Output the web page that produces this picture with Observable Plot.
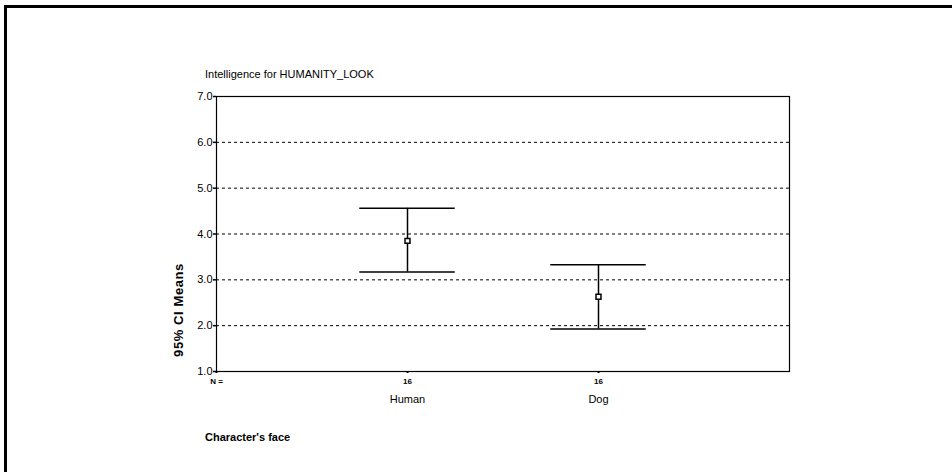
<!DOCTYPE html>
<html>
<head>
<meta charset="utf-8">
<script src="https://cdn.jsdelivr.net/npm/d3@7"></script>
<script src="https://cdn.jsdelivr.net/npm/@observablehq/plot@0.6"></script>
<style>
  html, body { margin: 0; padding: 0; background: #fff; }
  #wrap { position: relative; width: 952px; height: 472px; overflow: hidden; font-family: "Liberation Sans", Arial, sans-serif; }
  #frame { position: absolute; left: 4px; top: 5px; right: -10px; bottom: -10px; border-top: 3px solid #000; border-left: 3px solid #000; }
  .lbl { position: absolute; color: #000; white-space: nowrap; }
  #title { left: 205px; top: 68px; font-size: 11px; }
  #xtitle { left: 205px; top: 431px; font-size: 11px; font-weight: bold; }
  #ytitle { left: 178px; top: 310px; font-size: 13px; font-weight: bold; letter-spacing: 0.6px; transform: translate(-50%, -50%) rotate(-90deg); }
  #chart { position: absolute; left: 0; top: 0; }
</style>
</head>
<body>
<div id="wrap">
  <div id="frame"></div>
  <div id="chart"></div>
  <div class="lbl" id="title">Intelligence for HUMANITY_LOOK</div>
  <div class="lbl" id="ytitle">95% CI Means</div>
  <div class="lbl" id="xtitle">Character's face</div>
</div>
<script>
// Data
const categories = ["Human", "Dog"];
const means = [3.85, 2.63];
const lower = [3.17, 1.93];
const upper = [4.56, 3.33];
const nValues = [16, 16];
const yTicks = [1, 2, 3, 4, 5, 6, 7];
const gridTicks = [2, 3, 4, 5, 6];

// x positions: 0 = "N =" column, 1..n = categories, n+1 = empty end slot
const capHalf = 0.25;
const data = categories.map((c, i) => ({
  cat: c, pos: i + 1, mean: means[i], lo: lower[i], hi: upper[i], n: nValues[i]
}));
const nLabels = ["N =", ...nValues.map(String)];

const chart = Plot.plot({
  width: 952,
  height: 472,
  marginLeft: 216,
  marginRight: 163,
  marginTop: 96,
  marginBottom: 101,
  style: { fontFamily: "Liberation Sans, Arial, sans-serif", background: "transparent", color: "#000" },
  x: { type: "linear", domain: [0, categories.length + 1] },
  y: { domain: [1, 7] },
  marks: [
    Plot.ruleY(gridTicks, { stroke: "#000", strokeWidth: 1, strokeDasharray: "3,3" }),
    Plot.frame({ stroke: "#000", strokeWidth: 1.2 }),
    Plot.axisY({
      ticks: yTicks, tickFormat: d3.format(".1f"), tickSize: 3, tickPadding: 1,
      label: null, fontSize: 11, strokeWidth: 1.5
    }),
    Plot.axisX({
      ticks: d3.range(0, categories.length + 1), tickFormat: i => nLabels[i],
      tickSize: 2, tickPadding: 5, label: null, fontSize: 8, fontWeight: "bold", strokeWidth: 2
    }),
    Plot.axisX({
      ticks: data.map(d => d.pos), tickFormat: i => categories[i - 1],
      tickSize: 0, tickPadding: 24, label: null, fontSize: 11
    }),
    Plot.ruleX(data, { x: "pos", y1: "lo", y2: "hi", stroke: "#000", strokeWidth: 1.5 }),
    Plot.ruleY(data, { y: "hi", x1: d => d.pos - capHalf, x2: d => d.pos + capHalf, stroke: "#000", strokeWidth: 1.5 }),
    Plot.ruleY(data, { y: "lo", x1: d => d.pos - capHalf, x2: d => d.pos + capHalf, stroke: "#000", strokeWidth: 1.5 }),
    Plot.dot(data, { x: "pos", y: "mean", symbol: "square", r: 2.8, fill: "#fff", stroke: "#000", strokeWidth: 1.5 })
  ]
});
document.getElementById("chart").append(chart);
</script>
</body>
</html>
